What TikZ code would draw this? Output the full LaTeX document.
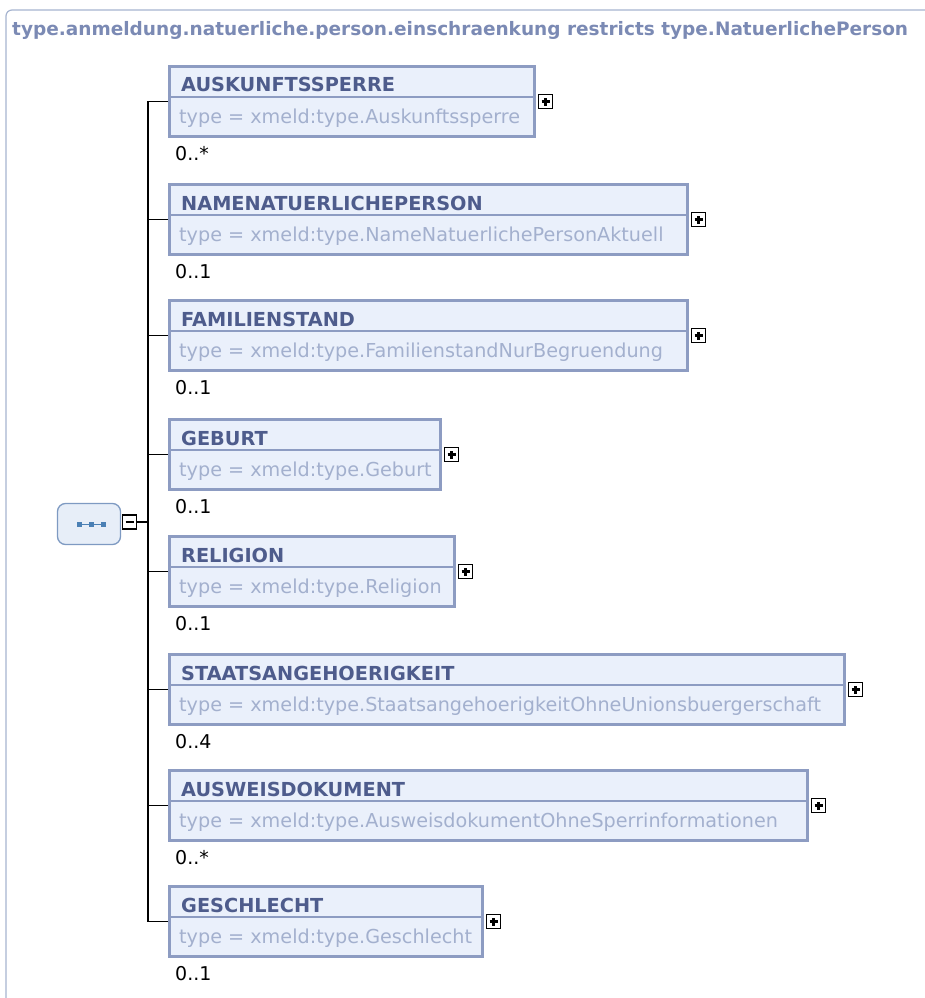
\documentclass[tikz,border=0pt]{standalone}
\usepackage{fontspec}
\setmainfont{DejaVu Sans}
\definecolor{boxborder}{HTML}{8D9CC2}
\definecolor{boxfill}{HTML}{EAF0FB}
\definecolor{titlec}{HTML}{4E5C8C}
\definecolor{typec}{HTML}{A3B0CE}
\definecolor{framec}{HTML}{A6B4D0}
\definecolor{headc}{HTML}{7B8AB4}
\definecolor{seqborder}{HTML}{7E9AC2}
\definecolor{seqfill}{HTML}{E7EEF8}
\definecolor{dotc}{HTML}{4B80B5}
\tikzset{
 elem/.style={draw=boxborder, fill=boxfill, line width=3pt, rectangle, anchor=north west, inner sep=0pt, outer sep=0pt},
 ename/.style={anchor=base west, text=titlec, font=\fontsize{19.3}{22}\selectfont\bfseries, inner sep=0pt},
 etype/.style={anchor=base west, text=typec, font=\fontsize{19.2}{22}\selectfont, inner sep=0pt},
 mult/.style={anchor=base west, text=black, font=\fontsize{19}{22}\selectfont, inner sep=0pt},
 expander/.style={draw=black, fill=white, line width=1.6pt, minimum size=14pt, inner sep=0pt, outer sep=0pt, rectangle, anchor=west},
 plussign/.style={expander, path picture={
   \draw[black, line width=2.2pt] ([xshift=-4pt]path picture bounding box.center) -- ([xshift=4pt]path picture bounding box.center);
   \draw[black, line width=2.2pt] ([yshift=-4pt]path picture bounding box.center) -- ([yshift=4pt]path picture bounding box.center);}},
 minussign/.style={expander, path picture={
   \draw[black, line width=2.2pt] ([xshift=-4pt]path picture bounding box.center) -- ([xshift=4pt]path picture bounding box.center);}},
 conn/.style={draw=black, line width=1.5pt},
 divider/.style={draw=boxborder, line width=1.3pt},
 seqbox/.style={draw=seqborder, fill=seqfill, line width=1.3pt, rounded corners=8pt, minimum width=63pt, minimum height=41pt, inner sep=0pt},
}
\begin{document}
\begin{tikzpicture}[x=1pt,y=-1pt]
\useasboundingbox (0,0) rectangle (925,998);
\draw[framec, line width=1.2pt, rounded corners=6pt] (6,1005) -- (6,10) -- (935,10);
\node[anchor=base west, text=headc, font=\fontsize{18.5}{21}\selectfont\bfseries, inner sep=0pt] (head) at (12,36) {type.anmeldung.natuerliche.person.einschraenkung restricts type.NatuerlichePerson};
% sequence compositor
\node[seqbox] (seq) at (89,524) {};
\draw[dotc, line width=1pt] (79,524) -- (103,524);
\foreach \dx in {79,91,103} {\fill[dotc] (\dx-2.5,521.5) rectangle (\dx+2.5,526.5);}
\node[minussign, anchor=center] (seqx) at (129.5,522) {};
\coordinate (bus) at (148,522);
\draw[conn] (seqx.east) -- (bus);
\foreach \i/\ty/\rgt/\nm/\tp/\mv in {
 1/65/536/AUSKUNFTSSPERRE/Auskunftssperre/0..*,
 2/183/689/NAMENATUERLICHEPERSON/NameNatuerlichePersonAktuell/0..1,
 3/299/689/FAMILIENSTAND/FamilienstandNurBegruendung/0..1,
 4/418/442/GEBURT/Geburt/0..1,
 5/535/456/RELIGION/Religion/0..1,
 6/653/846/STAATSANGEHOERIGKEIT/StaatsangehoerigkeitOhneUnionsbuergerschaft/0..4,
 7/769/809/AUSWEISDOKUMENT/AusweisdokumentOhneSperrinformationen/0..*,
 8/885/484/GESCHLECHT/Geschlecht/0..1} {
  \node[elem, minimum width={\rgt*1pt-171pt}, minimum height=70pt] (b\i) at (169.5,\ty+1.5) {};
  \draw[divider] (170,\ty+32) -- (\rgt-2,\ty+32);
  \node[ename] (n\i) at (181,\ty+27) {\nm};
  \node[etype] (t\i) at (179,\ty+58) {type = xmeld:type.\tp};
  \node[mult] (m\i) at (175,\ty+95) {\mv};
  \node[plussign] (x\i) at ([xshift=4pt]b\i.east) {};
  \draw[conn] ([xshift=-1.5pt]b\i.west) -| (bus);
}
\end{tikzpicture}
\end{document}
